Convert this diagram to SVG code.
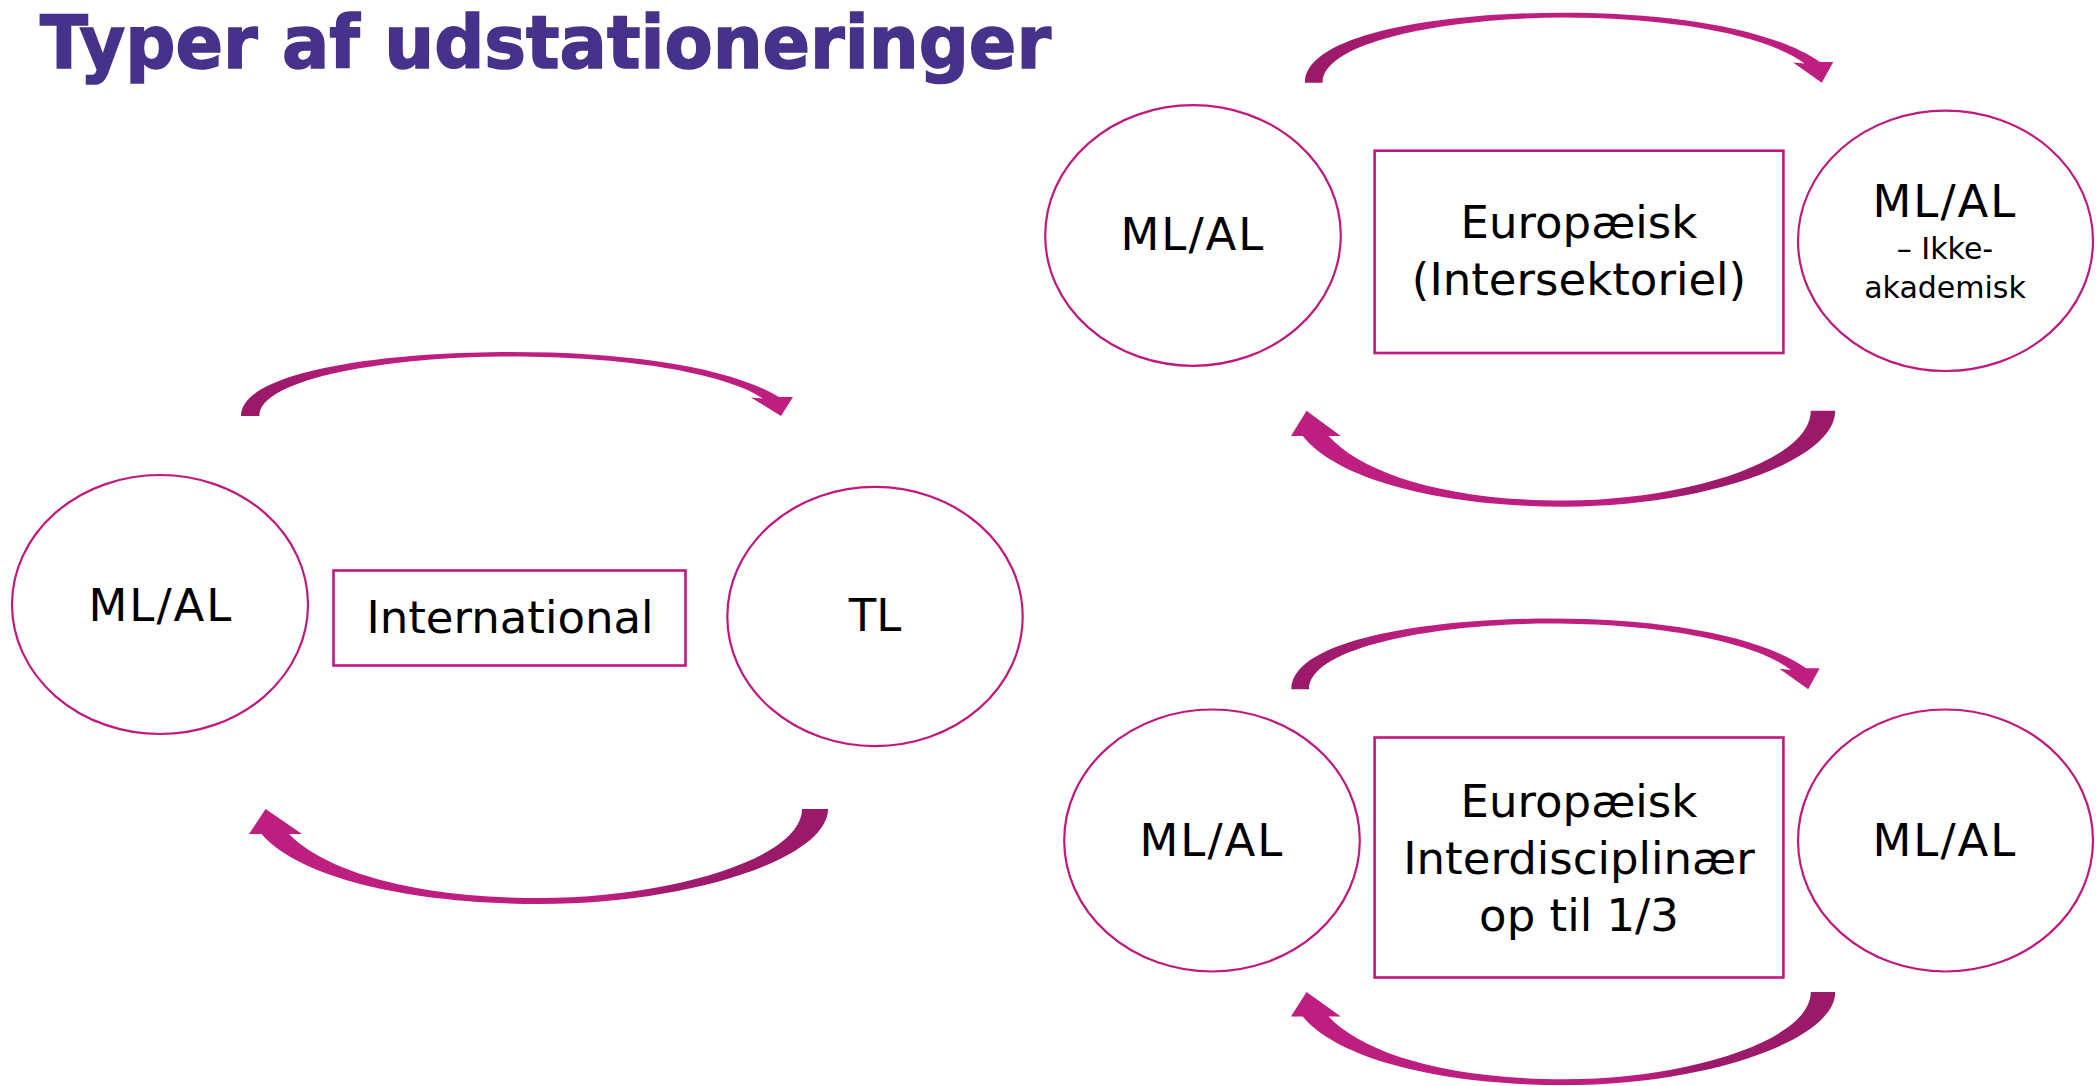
<svg xmlns="http://www.w3.org/2000/svg" xmlns:xlink="http://www.w3.org/1999/xlink" width="2100" height="1086" viewBox="0 0 2100 1086">
<style>
.ell{fill:#fff;stroke:#C0187F;stroke-width:2.2}
.box{fill:none;stroke:#C0187F;stroke-width:2.6}
.lbl{font-family:"DejaVu Sans","Liberation Sans",sans-serif;font-size:45px;fill:#000;text-anchor:middle}
.ml{letter-spacing:2px}
.small{font-size:30px}
.title{font-family:"DejaVu Sans","Liberation Sans",sans-serif;font-weight:bold;font-size:73px;fill:#46328B;stroke:#46328B;stroke-width:1.6}
</style>
<defs>
<linearGradient id="gTop" x1="0" y1="0" x2="1" y2="0">
<stop offset="0" stop-color="#9A1968"/>
<stop offset="0.1" stop-color="#A21A6E"/>
<stop offset="0.22" stop-color="#BE1E7F"/>
<stop offset="1" stop-color="#BE1E7F"/>
</linearGradient>
<linearGradient id="gBot" x1="0" y1="0" x2="1" y2="0">
<stop offset="0" stop-color="#BE1E7F"/>
<stop offset="0.62" stop-color="#BE1E7F"/>
<stop offset="0.74" stop-color="#9E1A6C"/>
<stop offset="1" stop-color="#9A1968"/>
</linearGradient>
<path id="arcTop" fill="url(#gTop)" d="M 0 0 C 0 -44 139 -64 270 -64 C 390 -64 490 -48 538 -19 L 552 -19 L 540 0 L 510 -18.5 L 522 -17.5 C 484 -43 384 -59.5 270 -59.5 C 150 -59.5 18.4 -38 18.4 0 Z"/>
<path id="arcBot" fill="url(#gBot)" d="M 0 0 C 0 50 -140 95 -288 95 C -420 95 -530 68 -566.4 25 L -579 25 L -562.4 0 L -526 25 L -539 25 C -505 60 -420 89 -288 89 C -160 89 -26 50 -26 0 Z"/>
</defs>
<rect width="2100" height="1086" fill="#fff"/>
<text class="title" x="40" y="68" textLength="1011" lengthAdjust="spacingAndGlyphs">Typer af udstationeringer</text>

<g id="connectors">
<use xlink:href="#arcTop" transform="translate(241,416)"/>
<use xlink:href="#arcBot" transform="translate(828,809)"/>
<use xlink:href="#arcTop" transform="translate(1305,82.7) scale(0.957,1.094)"/>
<use xlink:href="#arcBot" transform="translate(1835.2,410.7) scale(0.94,1.01)"/>
<use xlink:href="#arcTop" transform="translate(1291.4,689.3) scale(0.957,1.105)"/>
<use xlink:href="#arcBot" transform="translate(1835.2,992) scale(0.94,0.98)"/>
</g>

<g id="intl-ml-al">
<ellipse class="ell" cx="160" cy="604.5" rx="148" ry="129.5"/>
<text class="lbl ml" x="161" y="621">ML/AL</text>
</g>
<g id="intl-box">
<rect class="box" x="333.5" y="570.5" width="352" height="95"/>
<text class="lbl" x="510" y="633">International</text>
</g>
<g id="intl-tl">
<ellipse class="ell" cx="875" cy="616.5" rx="147.7" ry="129.6"/>
<text class="lbl" x="875" y="631">TL</text>
</g>

<g id="inter-ml-al">
<ellipse class="ell" cx="1193" cy="235.5" rx="147.8" ry="130.3"/>
<text class="lbl ml" x="1193" y="250">ML/AL</text>
</g>
<g id="inter-box">
<rect class="box" x="1374.6" y="150.7" width="408.8" height="202.3"/>
<text class="lbl" x="1579" y="238">Europæisk</text>
<text class="lbl" x="1579" y="295">(Intersektoriel)</text>
</g>
<g id="inter-ml-al-ikke">
<ellipse class="ell" cx="1945.5" cy="240.8" rx="147.5" ry="130.2"/>
<text class="lbl ml" x="1945" y="217">ML/AL</text>
<text class="lbl small" x="1945" y="259">– Ikke-</text>
<text class="lbl small" x="1945" y="298">akademisk</text>
</g>

<g id="interd-ml-al-1">
<ellipse class="ell" cx="1212" cy="840.5" rx="147.8" ry="131"/>
<text class="lbl ml" x="1212" y="856">ML/AL</text>
</g>
<g id="interd-box">
<rect class="box" x="1374.6" y="737.5" width="408.8" height="240"/>
<text class="lbl" x="1579" y="817">Europæisk</text>
<text class="lbl" x="1579" y="874">Interdisciplinær</text>
<text class="lbl" x="1579" y="931">op til 1/3</text>
</g>
<g id="interd-ml-al-2">
<ellipse class="ell" cx="1945.5" cy="840.5" rx="147.5" ry="131"/>
<text class="lbl ml" x="1945" y="856">ML/AL</text>
</g>
</svg>
